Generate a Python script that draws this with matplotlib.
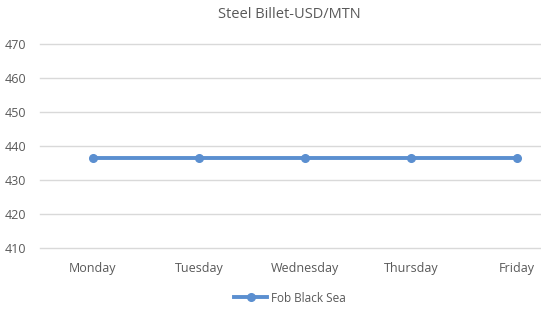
import matplotlib
matplotlib.use("Agg")
import matplotlib.pyplot as plt

days = ["Monday", "Tuesday", "Wednesday", "Thursday", "Friday"]
fob_black_sea = [436.5, 436.5, 436.5, 436.5, 436.5]
yticks = [410, 420, 430, 440, 450, 460, 470]

plt.rcParams['font.family'] = ['Open Sans', 'DejaVu Sans']

W, H = 541, 310
fig = plt.figure(figsize=(W/100, H/100), dpi=100)
left, right, bottom, top = 40, 570, 248, 44
ax = fig.add_axes([left/W, 1-bottom/H, (right-left)/W, (bottom-top)/H])

color = '#5B8FD0'
x = list(range(len(days)))
ax.plot(x, fob_black_sea, color=color, lw=2.8, marker='o', ms=5.5, label='Fob Black Sea', zorder=3)

ax.set_xlim(-0.5, len(days)-0.5)
ax.set_ylim(410, 470)
ax.set_yticks(yticks)
ax.set_xticks(x)
ax.set_xticklabels(days)
ax.grid(axis='y', color='#D9D9D9', lw=1)
for gl in ax.get_ygridlines():
    gl.set_clip_on(False)
ax.set_axisbelow(True)
for s in ax.spines.values():
    s.set_visible(False)
ax.tick_params(axis='both', length=0, labelsize=9, colors='#595959')
ax.tick_params(axis='x', pad=10)
ax.tick_params(axis='y', pad=10)

fig.text(289/W, 1-15/H, 'Steel Billet-USD/MTN', ha='center', va='center', fontsize=10.5, color='#595959')
leg = fig.legend(loc='center', bbox_to_anchor=(290/W, 1-298/H), frameon=False, fontsize=8.5,
                 handlelength=2.8, labelcolor='#595959', handletextpad=0.3)

fig.savefig('out.png', dpi=100)
